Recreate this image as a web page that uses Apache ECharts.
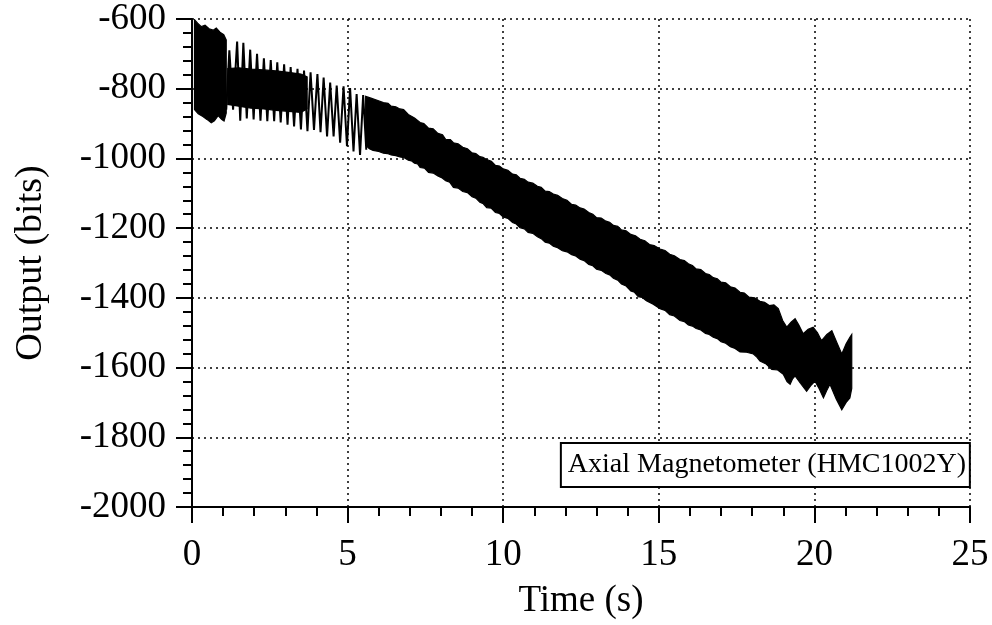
<!DOCTYPE html>
<html>
<head>
<meta charset="utf-8">
<script src="https://cdn.jsdelivr.net/npm/echarts@6/dist/echarts.min.js"></script>
<style>
html,body{margin:0;padding:0;background:#fff;}
#chart{width:992px;height:625px;}
</style>
</head>
<body>
<div id="chart"></div>
<script>
// ---- data ----
const xTitle = 'Time (s)';
const yTitle = 'Output (bits)';
const legendLabel = 'Axial Magnetometer (HMC1002Y)';

// first dense block (0 - 1.1 s): upper / lower envelope [time, output]
const blockUpper = [[0.08,-602],[0.18,-612],[0.30,-622],[0.42,-618],[0.55,-628],[0.68,-632],[0.78,-626],[0.90,-638],[1.02,-645],[1.10,-660]];
const blockLower = [[0.08,-860],[0.20,-872],[0.35,-880],[0.48,-888],[0.62,-898],[0.72,-892],[0.84,-877],[0.95,-888],[1.03,-893],[1.10,-870]];

// dense core (1.15 - 3.7 s)
const coreUpper = [[1.15,-742],[1.50,-740],[1.90,-744],[2.30,-746],[2.70,-749],[3.10,-753],[3.50,-758],[3.70,-766]];
const coreLower = [[1.15,-845],[1.50,-850],[1.90,-856],[2.30,-858],[2.70,-862],[3.10,-865],[3.50,-868],[3.70,-858]];

// slow oscillation peaks / troughs (1.1 - 5.6 s)
const oscillation = [[1.10,-860],[1.20,-690],[1.32,-860],[1.45,-665],[1.55,-892],[1.65,-668],[1.76,-885],[1.87,-688],[1.98,-888],[2.09,-700],[2.20,-892],[2.31,-713],[2.42,-893],[2.53,-718],[2.64,-893],[2.74,-724],[2.85,-897],[2.96,-730],[3.07,-903],[3.17,-738],[3.28,-908],[3.39,-743],[3.50,-917],[3.60,-748],[3.71,-922],[3.81,-753],[3.92,-918],[4.03,-758],[4.13,-925],[4.23,-768],[4.34,-937],[4.44,-782],[4.55,-937],[4.65,-791],[4.76,-955],[4.87,-793],[4.98,-965],[5.08,-798],[5.19,-980],[5.29,-815],[5.40,-990],[5.50,-818],[5.60,-975]];

// main dense band (5.6 - 21.2 s)
const bandUpper = [[5.58,-822],[5.75,-827],[5.95,-833],[6.15,-840],[6.30,-842],[6.40,-850],[6.55,-852],[6.68,-858],[6.80,-860],[6.95,-874],[7.15,-884],[7.33,-897],[7.45,-900],[7.60,-913],[7.75,-915],[7.90,-928],[8.05,-932],[8.15,-945],[8.30,-946],[8.40,-955],[8.55,-958],[8.70,-968],[8.85,-972],[9.00,-984],[9.12,-986],[9.25,-995],[9.35,-997],[9.47,-1003],[9.62,-1008],[9.75,-1020],[9.88,-1022],[10.00,-1030],[10.15,-1034],[10.30,-1045],[10.42,-1047],[10.54,-1057],[10.68,-1060],[10.80,-1068],[10.95,-1071],[11.10,-1080],[11.22,-1083],[11.35,-1094],[11.48,-1095],[11.61,-1102],[11.75,-1106],[11.90,-1115],[12.05,-1120],[12.20,-1132],[12.33,-1134],[12.47,-1142],[12.60,-1145],[12.75,-1155],[12.88,-1160],[13.00,-1170],[13.15,-1171],[13.30,-1180],[13.42,-1183],[13.54,-1192],[13.68,-1195],[13.80,-1205],[13.95,-1208],[14.10,-1218],[14.25,-1222],[14.40,-1232],[14.55,-1236],[14.70,-1247],[14.85,-1250],[15.04,-1260],[15.20,-1264],[15.35,-1275],[15.50,-1279],[15.68,-1290],[15.82,-1293],[15.95,-1302],[16.08,-1307],[16.20,-1317],[16.35,-1319],[16.50,-1330],[16.62,-1333],[16.75,-1342],[16.88,-1345],[17.00,-1355],[17.15,-1357],[17.30,-1368],[17.45,-1372],[17.61,-1384],[17.75,-1386],[17.90,-1398],[18.08,-1400],[18.25,-1410],[18.40,-1413],[18.55,-1422],[18.70,-1420],[18.84,-1431],[18.98,-1465],[19.11,-1484],[19.25,-1470],[19.38,-1460],[19.50,-1478],[19.64,-1503],[19.80,-1490],[19.96,-1484],[20.10,-1500],[20.23,-1523],[20.40,-1505],[20.56,-1494],[20.72,-1528],[20.88,-1561],[21.02,-1532],[21.14,-1513],[21.20,-1505]];
const bandLower = [[5.58,-962],[5.70,-972],[5.82,-977],[6.00,-980],[6.15,-985],[6.28,-986],[6.40,-990],[6.55,-992],[6.68,-996],[6.82,-998],[6.95,-1005],[7.05,-1007],[7.15,-1014],[7.25,-1016],[7.33,-1026],[7.47,-1028],[7.60,-1040],[7.75,-1042],[7.90,-1050],[8.02,-1055],[8.15,-1064],[8.28,-1068],[8.40,-1083],[8.55,-1085],[8.70,-1095],[8.85,-1098],[9.00,-1110],[9.12,-1114],[9.25,-1126],[9.36,-1130],[9.47,-1141],[9.62,-1143],[9.75,-1155],[9.88,-1158],[10.00,-1168],[10.15,-1172],[10.30,-1184],[10.42,-1188],[10.54,-1199],[10.68,-1202],[10.80,-1212],[10.95,-1215],[11.10,-1225],[11.22,-1230],[11.35,-1240],[11.48,-1243],[11.61,-1252],[11.75,-1256],[11.90,-1265],[12.05,-1268],[12.20,-1276],[12.33,-1280],[12.47,-1289],[12.60,-1293],[12.75,-1304],[12.88,-1308],[13.00,-1318],[13.15,-1321],[13.30,-1330],[13.42,-1334],[13.54,-1344],[13.68,-1349],[13.80,-1360],[13.95,-1366],[14.10,-1380],[14.22,-1384],[14.34,-1397],[14.47,-1399],[14.60,-1408],[14.82,-1418],[15.04,-1431],[15.20,-1436],[15.35,-1448],[15.50,-1452],[15.68,-1465],[15.82,-1468],[15.95,-1478],[16.08,-1481],[16.20,-1488],[16.35,-1492],[16.50,-1502],[16.62,-1505],[16.75,-1513],[16.88,-1517],[17.00,-1526],[17.15,-1530],[17.30,-1540],[17.45,-1545],[17.61,-1555],[17.82,-1556],[18.04,-1561],[18.15,-1570],[18.25,-1581],[18.45,-1590],[18.63,-1605],[18.82,-1607],[19.00,-1619],[19.12,-1640],[19.22,-1648],[19.30,-1632],[19.38,-1624],[19.55,-1645],[19.75,-1668],[19.90,-1650],[20.02,-1639],[20.15,-1660],[20.29,-1687],[20.40,-1665],[20.50,-1648],[20.70,-1690],[20.88,-1721],[21.02,-1700],[21.14,-1687],[21.20,-1660]];

const xRange = [0, 25, 5];
const yRange = [-2000, -600, 200];

// ---- chart ----
const FONT = "'Liberation Serif','Times New Roman',serif";

function bandSeries(upper, lower) {
  return {
    type: 'custom',
    coordinateSystem: 'cartesian2d',
    silent: true,
    clip: true,
    z: 3,
    data: [upper[0]],
    renderItem: function (params, api) {
      const pts = upper.concat(lower.slice().reverse()).map(function (p) { return api.coord(p); });
      return {
        type: 'polygon',
        shape: { points: pts },
        style: { fill: '#000', stroke: '#000', lineWidth: 1.2 }
      };
    }
  };
}

const chart = echarts.init(document.getElementById('chart'), null, { renderer: 'canvas' });
const gridLine = { show: true, lineStyle: { color: '#000', type: [2, 4], width: 1.5 } };
const plain = function (v) { return String(v); };

chart.setOption({
  backgroundColor: '#fff',
  animation: false,
  title: {
    text: legendLabel,
    right: 22,
    top: 443,
    padding: [8, 4, 8, 7],
    borderColor: '#000',
    borderWidth: 2,
    backgroundColor: '#fff',
    textStyle: { fontFamily: FONT, fontSize: 28, fontWeight: 'normal', color: '#000' }
  },
  grid: { left: 192, right: 22, top: 19, bottom: 118, containLabel: false },
  xAxis: {
    type: 'value',
    min: xRange[0], max: xRange[1], interval: xRange[2],
    name: xTitle,
    nameLocation: 'middle',
    nameGap: 76,
    nameTextStyle: { fontFamily: FONT, fontSize: 37, color: '#000' },
    axisLine: { show: true, onZero: false, lineStyle: { color: '#000', width: 2 } },
    axisTick: { show: true, inside: false, length: 16, lineStyle: { color: '#000', width: 2 } },
    minorTick: { show: true, splitNumber: 5, length: 9, lineStyle: { color: '#000', width: 2 } },
    axisLabel: { fontFamily: FONT, fontSize: 37, color: '#000', margin: 30, formatter: plain },
    splitLine: gridLine
  },
  yAxis: {
    type: 'value',
    min: yRange[0], max: yRange[1], interval: yRange[2],
    name: yTitle,
    nameLocation: 'middle',
    nameGap: 142,
    nameRotate: 90,
    nameTextStyle: { fontFamily: FONT, fontSize: 38, color: '#000' },
    axisLine: { show: true, onZero: false, lineStyle: { color: '#000', width: 2 } },
    axisTick: { show: true, inside: false, length: 16, lineStyle: { color: '#000', width: 2 } },
    minorTick: { show: true, splitNumber: 5, length: 9, lineStyle: { color: '#000', width: 2 } },
    axisLabel: { fontFamily: FONT, fontSize: 37, color: '#000', margin: 26, formatter: plain },
    splitLine: gridLine
  },
  series: [
    bandSeries(blockUpper, blockLower),
    bandSeries(coreUpper, coreLower),
    bandSeries(bandUpper, bandLower),
    {
      type: 'line',
      data: oscillation,
      showSymbol: false,
      silent: true,
      z: 4,
      lineStyle: { color: '#000', width: 2 }
    }
  ]
});
</script>
</body>
</html>
